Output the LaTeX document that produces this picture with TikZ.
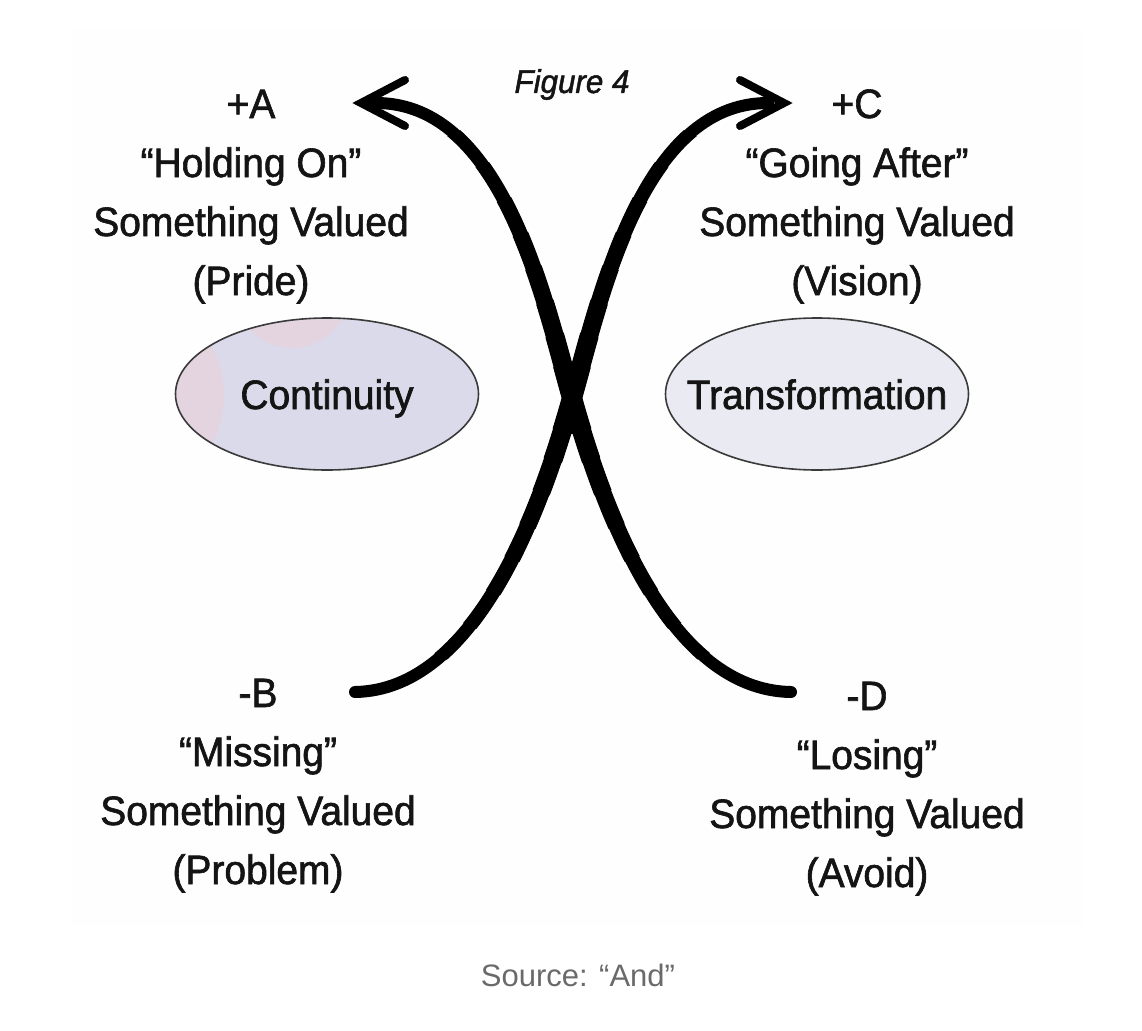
\documentclass[tikz,border=0pt]{standalone}
\usepackage{fontspec}
\setmainfont{Liberation Sans}[FakeStretch=0.95,FakeBold=1.5]
\newfontfamily\srcfont{Liberation Sans}
\usetikzlibrary{shapes.geometric}
\definecolor{ink}{HTML}{141414}
\definecolor{ovalA}{HTML}{DADAEB}
\definecolor{ovalB}{HTML}{EAEAF3}
\definecolor{pinkish}{HTML}{E3D4E0}
\definecolor{srcgray}{HTML}{6A6A6A}
\definecolor{edge}{HTML}{3A3A3A}
\definecolor{paper}{HTML}{FEFEFE}
\begin{document}
\begin{tikzpicture}[x=1pt,y=-1pt,
  lbl/.style={anchor=base,inner sep=0pt,font=\fontsize{41}{59}\selectfont,text=ink},
  oval/.style={ellipse,draw=edge,line width=1.6pt,minimum width=303pt,minimum height=152pt,inner sep=0pt,font=\fontsize{41}{59}\selectfont,text=ink,text height=30pt,text depth=0pt},
  barb/.style={line width=8pt,draw=black,line cap=round,line join=miter}]
\useasboundingbox (0,0) rectangle (1142,1030);
\fill[white] (0,0) rectangle (1142,1030);
\fill[paper] (72,30) rectangle (1083,926);

% ellipses
\fill[ovalA] (327,394) ellipse [x radius=151, y radius=76];
\begin{scope}
  \clip (327,394) ellipse [x radius=151, y radius=76];
  \fill[pinkish] (292,290) circle [radius=58];
  \fill[pinkish] (122,395) circle [radius=102];
\end{scope}
\node[oval] (cont) at (327,394) {\makebox[0pt][c]{Continuity}};
\node[oval,fill=ovalB] (trans) at (817,394) {\makebox[0pt][c]{Transformation}};

% labels
\node[lbl] (A) at (251,118) {\begin{tabular}[t]{@{}c@{}}+A\\“Holding On”\\Something Valued\\(Pride)\end{tabular}};
\node[lbl] (C) at (857,118) {\begin{tabular}[t]{@{}c@{}}+C\\“Going After”\\Something Valued\\(Vision)\end{tabular}};
\node[lbl] (B) at (258,707) {\begin{tabular}[t]{@{}c@{}}-B\\“Missing”\\Something Valued\\(Problem)\end{tabular}};
\node[lbl] (D) at (867,710) {\begin{tabular}[t]{@{}c@{}}-D\\“Losing”\\Something Valued\\(Avoid)\end{tabular}};

\node[anchor=base,inner sep=0pt,font=\fontsize{33}{40}\selectfont\itshape,text=ink] (fig) at (572,93) {Figure 4};
\node[anchor=base,inner sep=0pt,font=\srcfont\fontsize{31}{37}\selectfont,text=srcgray] (src) at (578,986) {Source: “And”};

% curves
\coordinate (Btail) at (355,692);
\coordinate (Dtail) at (791,692);
\coordinate (Cross) at (572,398);
\coordinate (Cend) at (768,103);
\coordinate (Ctip) at (784,103);
\coordinate (Aend) at (376,103);
\coordinate (Atip) at (361,103);

\foreach \w/\r in {12/2000,13/290,14/250,15/210,16/172,17/136,18/100,19/66,20/36}{
  \begin{scope}
    \clip (Cross) circle [radius=\r];
    \draw[line width=\w pt,line cap=round] (Btail) .. controls (475,690) and (540,512) .. (Cross)
      .. controls (600,300) and (641,103) .. (Cend);
    \draw[line width=\w pt,line cap=round] (Dtail) .. controls (669,690) and (604,512) .. (Cross)
      .. controls (544,300) and (503,103) .. (Aend);
  \end{scope}
}

\draw[barb] ([shift={(-44,-23)}]Ctip) -- (Ctip) -- ([shift={(-44,23)}]Ctip);
\draw[barb] ([shift={(44,-23)}]Atip) -- (Atip) -- ([shift={(44,23)}]Atip);
\end{tikzpicture}
\end{document}
